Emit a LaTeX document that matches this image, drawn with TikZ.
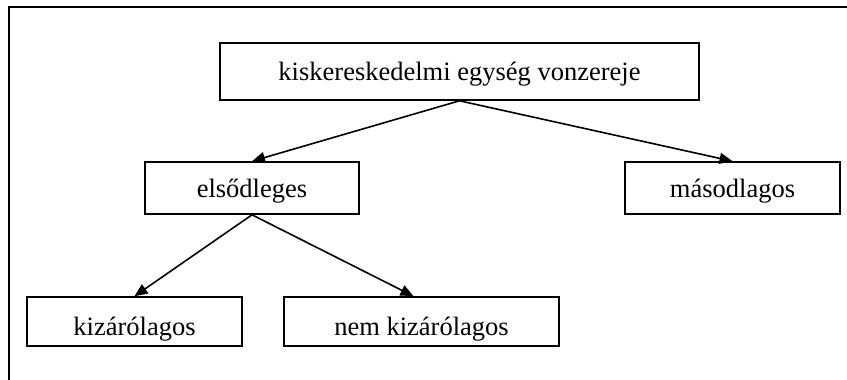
\documentclass[tikz,border=0pt]{standalone}
\usepackage{fontspec}
\setmainfont{Liberation Serif}
\usetikzlibrary{arrows.meta}

\begin{document}
\begin{tikzpicture}[x=1pt,y=-1pt,
		box/.style={draw,line width=1.6pt,inner sep=0pt,text depth=2pt,font=\fontsize{26.5}{30}\selectfont},
		arr/.style={line width=1.6pt,-{Triangle[length=13pt,width=11pt]}}]
			\useasboundingbox (0,0) rectangle (847,380);
			\draw[line width=2pt] (8.5,380) -- (8.5,6.5) -- (847,6.5);
			\node[box,text height=19pt,minimum width=479pt,minimum height=57pt] (vonz) at (459.5,71.5) {kiskereskedelmi egység vonzereje};
			\node[box,text height=20pt,minimum width=214pt,minimum height=52pt] (elso) at (252,188) {elsődleges};
			\node[box,text height=20pt,minimum width=215pt,minimum height=52pt] (maso) at (732.5,188) {másodlagos};
			\node[box,text height=30pt,minimum width=215pt,minimum height=49pt] (kiz) at (134.5,321.5) {kizárólagos};
			\node[box,text height=30pt,minimum width=275pt,minimum height=49pt] (nemkiz) at (421.5,321.5) {nem kizárólagos};
			\draw[arr] (vonz.south) -- (elso.north);
			\draw[arr] (vonz.south) -- (maso.north);
			\draw[arr] (elso.south) -- (kiz.north);
			\draw[arr] (elso.south) -- ([xshift=-8pt]nemkiz.north);
		\end{tikzpicture}
\end{document}
